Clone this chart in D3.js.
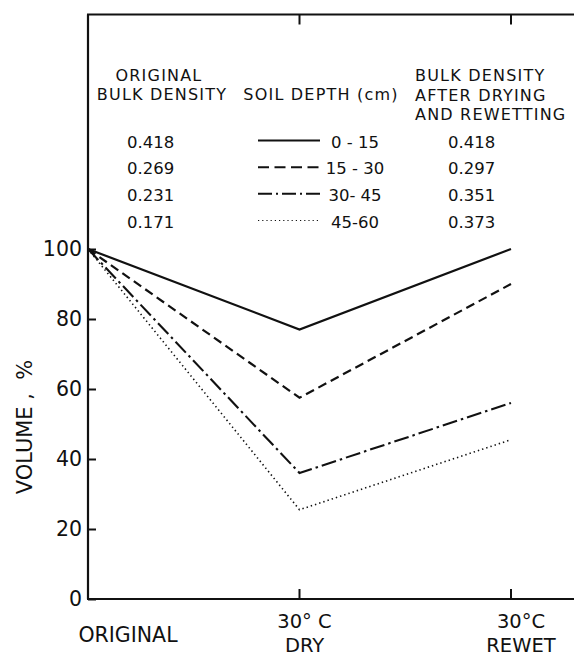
<!DOCTYPE html>
<html>
<head>
<meta charset="utf-8">
<script src="https://cdn.jsdelivr.net/npm/d3@7"></script>
<style>
  html, body { margin: 0; padding: 0; background: #fff; }
  svg { display: block; }
  text { font-family: "DejaVu Sans", sans-serif; fill: #111; }
</style>
</head>
<body>
<svg id="chart" width="574" height="657"></svg>
<script>
// Treatment stages along the x axis
const stages = ["ORIGINAL", "30°C DRY", "30°C REWET"];
const stageLabels = [["ORIGINAL"], ["30° C", "DRY"], ["30°C", "REWET"]];

// Soil depth layers (cm)
const depths = ["0 - 15", "15 - 30", "30- 45", "45-60"];

// Volume (% of original) for each depth at each stage
const volume0_15  = [100, 77, 100];
const volume15_30 = [100, 57.5, 90];
const volume30_45 = [100, 36, 56];
const volume45_60 = [100, 25.5, 45.5];

// Bulk densities shown in the key
const originalDensity = ["0.418", "0.269", "0.231", "0.171"];
const rewetDensity    = ["0.418", "0.297", "0.351", "0.373"];

// Y axis ticks
const yTicks = [0, 20, 40, 60, 80, 100];

const series = [volume0_15, volume15_30, volume30_45, volume45_60];
const lineStyles = [
  { dash: null,          width: 2.2, key: null },
  { dash: "9,5",         width: 2.2, key: "11,5.5" },
  { dash: "15,4,2.5,4",  width: 2.1, key: "14,4,2,4" },
  { dash: "1.4,3",       width: 1.6, key: "1.2,3" }
];

const W = 574, H = 657;
const svg = d3.select("#chart");

const x = d3.scalePoint().domain(stages).range([88, 511]).padding(0);
const y = d3.scaleLinear().domain([0, 100]).range([599, 249]);
const yTop = 167; // top of the frame in data units

const ink = "#111";

// Frame: left axis, top and bottom rules
svg.append("line")
  .attr("x1", x(stages[0])).attr("x2", x(stages[0]))
  .attr("y1", y(yTop)).attr("y2", y(0))
  .attr("stroke", ink).attr("stroke-width", 2.2);
svg.append("line")
  .attr("x1", x(stages[0]) - 1).attr("x2", W)
  .attr("y1", y(yTop)).attr("y2", y(yTop))
  .attr("stroke", ink).attr("stroke-width", 2);
svg.append("line")
  .attr("x1", x(stages[0]) - 1).attr("x2", W)
  .attr("y1", y(0)).attr("y2", y(0))
  .attr("stroke", ink).attr("stroke-width", 2.2);

// Y axis with inward ticks
const yAxis = d3.axisLeft(y).tickValues(yTicks).tickSize(-8).tickPadding(6).tickFormat(d3.format("d"));
const gy = svg.append("g").attr("transform", `translate(${x(stages[0])},0)`).call(yAxis);
gy.select(".domain").remove();
gy.selectAll(".tick line").attr("stroke", ink).attr("stroke-width", 2);
gy.selectAll(".tick text")
  .attr("font-size", 20.5).attr("fill", ink)
  .attr("font-family", "DejaVu Sans, sans-serif")
  .attr("x", -6);

// Stage ticks on bottom and top rules
const innerStages = stages.slice(1);
svg.selectAll(".btick").data(innerStages).enter().append("line")
  .attr("x1", d => x(d)).attr("x2", d => x(d))
  .attr("y1", y(0)).attr("y2", y(0) - 10)
  .attr("stroke", ink).attr("stroke-width", 2);
svg.selectAll(".ttick").data(innerStages).enter().append("line")
  .attr("x1", d => x(d)).attr("x2", d => x(d))
  .attr("y1", y(yTop)).attr("y2", y(yTop) + 10)
  .attr("stroke", ink).attr("stroke-width", 2);

// Stage labels under the axis
const labelShift = [40, 5, 10];
stages.forEach((s, i) => {
  const lines = stageLabels[i];
  if (lines.length === 1) {
    svg.append("text")
      .attr("text-anchor", "middle")
      .attr("font-size", 20.5)
      .attr("x", x(s) + labelShift[i])
      .attr("y", 642).text(lines[0]);
  } else {
    lines.forEach((ln, j) => {
      svg.append("text")
        .attr("text-anchor", "middle")
        .attr("font-size", 19.5)
        .attr("x", x(s) + labelShift[i])
        .attr("y", j === 0 ? 628 : 652)
        .text(ln);
    });
  }
});

// Y axis title
svg.append("text")
  .attr("transform", "translate(32,427) rotate(-90)")
  .attr("text-anchor", "middle")
  .attr("font-size", 21)
  .attr("xml:space", "preserve")
  .text("VOLUME ,  %");

// Data lines
const line = d3.line().x((d, i) => x(stages[i])).y(d => y(d));
series.forEach((vals, k) => {
  svg.append("path")
    .datum(vals)
    .attr("d", line)
    .attr("fill", "none")
    .attr("stroke", ink)
    .attr("stroke-width", lineStyles[k].width)
    .attr("stroke-dasharray", lineStyles[k].dash)
    .attr("stroke-linejoin", "miter");
});

// Key: column headers
const keyFont = 16;
function header(txt, xPos, yPos, anchor) {
  svg.append("text")
    .attr("x", xPos).attr("y", yPos)
    .attr("text-anchor", anchor)
    .attr("font-size", keyFont)
    .attr("letter-spacing", 1.2)
    .text(txt);
}
header("ORIGINAL", 159, 81, "middle");
header("BULK  DENSITY", 162, 100, "middle");
header("SOIL DEPTH (cm)", 321, 100, "middle");
header("BULK  DENSITY", 415, 81, "start");
header("AFTER DRYING", 415, 101, "start");
header("AND REWETTING", 415, 120, "start");

// Key: rows
const rowY = d3.scalePoint().domain(depths).range([147.5, 227.5]);
depths.forEach((dep, k) => {
  const by = rowY(dep);
  svg.append("text").attr("x", 127).attr("y", by).attr("font-size", 16.5).text(originalDensity[k]);
  svg.append("line")
    .attr("x1", 258).attr("x2", 320)
    .attr("y1", by - 7).attr("y2", by - 7)
    .attr("stroke", ink)
    .attr("stroke-width", k === 3 ? 1.2 : 2)
    .attr("stroke-dasharray", lineStyles[k].key);
  svg.append("text").attr("x", 355).attr("y", by).attr("text-anchor", "middle")
    .attr("font-size", 16.5).attr("xml:space", "preserve").text(dep);
  svg.append("text").attr("x", 448).attr("y", by).attr("font-size", 16.5).text(rewetDensity[k]);
});
</script>
</body>
</html>
